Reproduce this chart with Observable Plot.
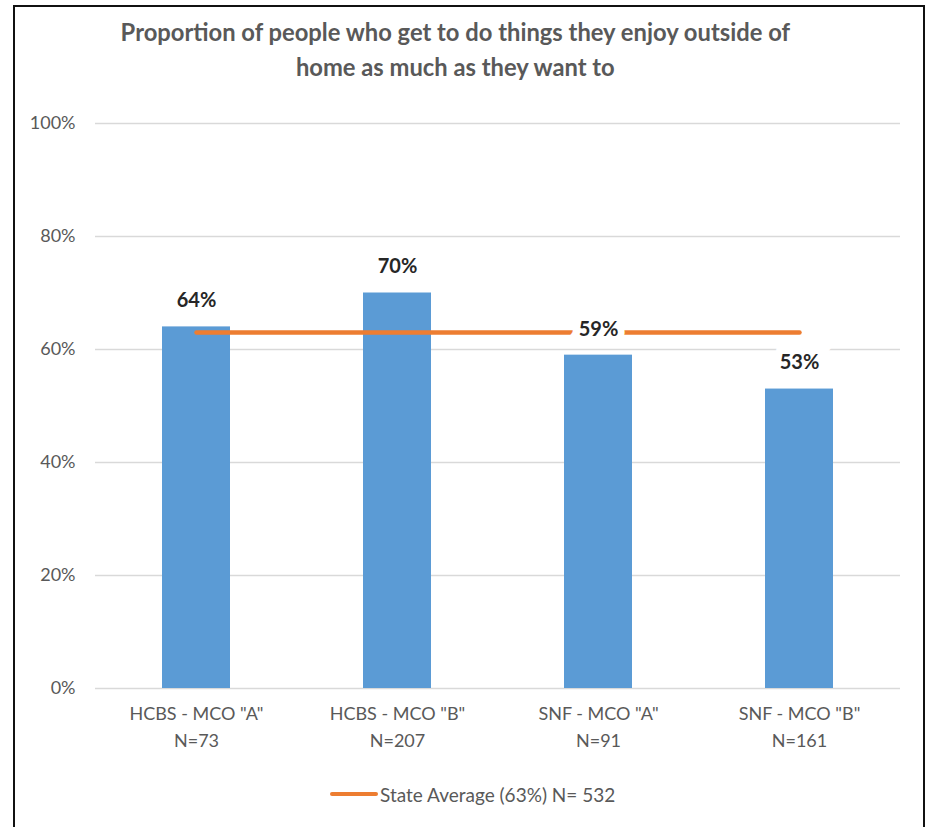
<!DOCTYPE html>
<html>
<head>
<meta charset="utf-8">
<script src="https://cdn.jsdelivr.net/npm/d3@7"></script>
<script src="https://cdn.jsdelivr.net/npm/@observablehq/plot@0.6"></script>
<style>
  html, body { margin: 0; padding: 0; background: #fff; }
  #wrap { position: relative; width: 930px; height: 827px; overflow: hidden; font-family: Lato, "Open Sans", sans-serif; }
  #frame { position: absolute; left: 13px; top: 5px; width: 912px; height: 900px; box-sizing: border-box; border: 2.5px solid #111; pointer-events: none; }
  #title { position: absolute; left: 0; top: 14px; width: 910px; text-align: center; }
  #title span { display: inline-block; font-size: 25px; font-weight: bold; color: #595959; line-height: 35px; transform: scaleX(0.95); transform-origin: center; white-space: nowrap; }
  #chart { position: absolute; left: 0; top: 0; }
  #legend { position: absolute; left: 330px; top: 782px; height: 24px; display: flex; align-items: center; font-size: 19px; color: #595959; }
  #legend .sw { width: 48px; height: 4px; border-radius: 2px; background: #ED7D31; margin-right: 2px; }
</style>
</head>
<body>
<div id="wrap">
  <div id="chart"></div>
  <div id="title"><span>Proportion of people who get to do things they enjoy outside of<br>home as much as they want to</span></div>
  <div id="legend"><span class="sw"></span><span id="legendText"></span></div>
  <div id="frame"></div>
</div>
<script>
const categories = ['HCBS - MCO "A"', 'HCBS - MCO "B"', 'SNF - MCO "A"', 'SNF - MCO "B"'];
const sampleSizes = [73, 207, 91, 161];
const values = [0.64, 0.70, 0.59, 0.53];
const stateAverage = 0.63;
const stateN = 532;
const yTicks = [0, 0.2, 0.4, 0.6, 0.8, 1.0];
const legendLabel = `State Average (${Math.round(stateAverage * 100)}%) N= ${stateN}`;

const data = categories.map((c, i) => ({cat: c, n: sampleSizes[i], v: values[i], avg: stateAverage}));

document.getElementById("legendText").textContent = legendLabel;

const chart = Plot.plot({
  width: 930,
  height: 827,
  marginTop: 123,
  marginBottom: 139,
  marginLeft: 95,
  marginRight: 30,
  style: {fontFamily: "Lato, 'Open Sans', sans-serif", background: "transparent"},
  x: {domain: categories, paddingInner: 0.66, paddingOuter: 0.33, axis: null},
  y: {domain: [0, 1], axis: null},
  marks: [
    Plot.gridY(yTicks, {stroke: "#d9d9d9", strokeOpacity: 1, strokeWidth: 1.5}),
    Plot.axisY(yTicks, {tickSize: 0, tickPadding: 20, tickFormat: d => Math.round(d * 100) + "%", fontSize: 18, fill: "#595959", label: null}),
    Plot.barY(data, {x: "cat", y: "v", fill: "#5B9BD5"}),
    Plot.lineY(data, {x: "cat", y: "avg", stroke: "#ED7D31", strokeWidth: 4.5, strokeLinecap: "round"}),
    Plot.text(data, {x: "cat", y: "v", text: d => Math.round(d.v * 100) + "%", dy: -26, fontSize: 20, fontWeight: "bold", fill: "#262626", stroke: "white", strokeWidth: 14, strokeLinejoin: "miter"}),
    Plot.text(data, {x: "cat", frameAnchor: "bottom", text: "cat", dy: 31, fontSize: 18, fill: "#595959"}),
    Plot.text(data, {x: "cat", frameAnchor: "bottom", text: d => "N=" + d.n, dy: 58, fontSize: 18, fill: "#595959"})
  ]
});
document.getElementById("chart").appendChild(chart);
</script>
</body>
</html>
